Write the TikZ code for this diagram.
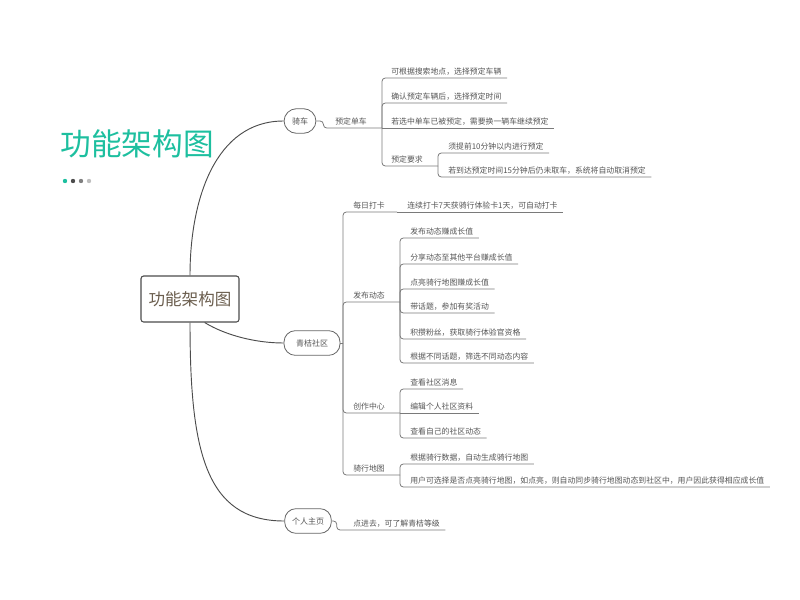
\documentclass[tikz,border=0pt]{standalone}
\usepackage{fontspec}
\setmainfont{Noto Sans CJK SC}
\usepackage{xcolor}
\usetikzlibrary{positioning,calc}

\definecolor{mintteal}{HTML}{1DBF9F}
\definecolor{linegray}{HTML}{7A7A7A}
\definecolor{textgray}{HTML}{555555}
\definecolor{rootbrown}{HTML}{6B5E4E}

\begin{document}
\begin{tikzpicture}[
    x=0.75pt, y=-0.75pt,
    heading/.style={font=\fontsize{23}{26}\selectfont, text=mintteal, inner sep=0pt},
    root/.style={rectangle, draw=black!70, rounded corners=2pt, line width=0.8pt, minimum width=73.5pt, minimum height=34.5pt, font=\fontsize{12.4}{14}\selectfont, text=rootbrown, fill=white},
    topic/.style={rectangle, draw=black!60, rounded corners=8.5pt, line width=0.6pt, minimum height=18.5pt, inner xsep=3pt, font=\fontsize{6}{7}\selectfont, text=textgray, fill=white},
    leaf/.style={anchor=south west, inner xsep=0pt, inner ysep=2pt, font=\fontsize{5.9}{7}\selectfont, text=textgray},
    trunk/.style={draw=black!70, line width=0.7pt},
    branch/.style={draw=linegray, line width=0.6pt, rounded corners=2.5pt},
    dot/.style={circle, inner sep=0pt, minimum size=3.3pt},
]
\useasboundingbox (0,0) rectangle (800,600);

% title
\node[heading] (title) at (137,144) {功能架构图};
\node[dot, fill=mintteal] (d1) at (65,181) {};
\node[dot, fill=black!70] (d2) at (73,181) {};
\node[dot, fill=black!50] (d3) at (81,181) {};
\node[dot, fill=black!25] (d4) at (89,181) {};

% centre and main topics
\node[root] (root) at (190,299) {功能架构图};
\node[topic, minimum width=24pt, rounded corners=9.5pt] (ride) at (300,121) {骑车};
\node[topic, minimum width=42pt] (community) at (312,343) {青桔社区};
\node[topic, minimum width=35pt] (home) at (308,521) {个人主页};

\draw[trunk] (root.north) .. controls (190,200) and (215,121) .. (ride.west);
\draw[trunk] ([xshift=11pt]root.south) .. controls (225,335) and (255,343) .. (community.west);
\draw[trunk] (root.south) .. controls (190,450) and (205,521) .. (home.west);

% 骑车
\coordinate (bookfork) at (382,128);
\node[leaf] (book) at (335,128) {预定单车};
\node[leaf] (search) at (391,78) {可根据搜索地点，选择预定车辆};
\node[leaf] (picktime) at (391,103) {确认预定车辆后，选择预定时间};
\node[leaf] (rebook) at (391,128) {若选中单车已被预定，需要换一辆车继续预定};
\node[leaf] (rule) at (391,166) {预定要求};
\coordinate (rulefork) at (438,166);
\node[leaf] (early) at (448,153) {须提前10分钟以内进行预定};
\node[leaf] (cancel) at (448,177) {若到达预定时间15分钟后仍未取车，系统将自动取消预定};

\draw[branch] (ride.east) -- ++(7,0) |- (bookfork);
\draw[branch] (bookfork) |- ([xshift=4pt]search.south east);
\draw[branch] (bookfork) |- ([xshift=4pt]picktime.south east);
\draw[branch] (bookfork) -- ([xshift=4pt]rebook.south east);
\draw[branch] (bookfork) |- (rulefork);
\draw[branch] (rulefork) |- ([xshift=4pt]early.south east);
\draw[branch] (rulefork) |- ([xshift=4pt]cancel.south east);

% 青桔社区
\coordinate (commfork) at (343,343);
\node[leaf] (checkin) at (353,212) {每日打卡};
\coordinate (checkinfork) at (397,212);
\node[leaf] (streak) at (407,212) {连续打卡7天获骑行体验卡1天，可自动打卡};

\node[leaf] (post) at (353,302) {发布动态};
\coordinate (postfork) at (400,302);
\node[leaf] (post1) at (410,238) {发布动态赚成长值};
\node[leaf] (post2) at (410,264) {分享动态至其他平台赚成长值};
\node[leaf] (post3) at (410,289) {点亮骑行地图赚成长值};
\node[leaf] (post4) at (410,313) {带话题，参加有奖活动};
\node[leaf] (post5) at (410,339) {积攒粉丝，获取骑行体验官资格};
\node[leaf] (post6) at (410,363) {根据不同话题，筛选不同动态内容};

\node[leaf] (studio) at (353,413) {创作中心};
\coordinate (studiofork) at (400,413);
\node[leaf] (studio1) at (410,389) {查看社区消息};
\node[leaf] (studio2) at (410,413) {编辑个人社区资料};
\node[leaf] (studio3) at (410,438) {查看自己的社区动态};

\node[leaf] (ridemap) at (353,475) {骑行地图};
\coordinate (mapfork) at (400,475);
\node[leaf] (map1) at (410,464) {根据骑行数据，自动生成骑行地图};
\node[leaf] (map2) at (410,487) {用户可选择是否点亮骑行地图，如点亮，则自动同步骑行地图动态到社区中，用户因此获得相应成长值};

\draw[branch] (community.east) -- (commfork);
\draw[branch] (commfork) |- (checkinfork);
\draw[branch] (checkinfork) -- ([xshift=4pt]streak.south east);
\draw[branch] (commfork) |- (postfork);
\draw[branch] (commfork) |- (studiofork);
\draw[branch] (commfork) |- (mapfork);

\draw[branch] (postfork) |- ([xshift=4pt]post1.south east);
\draw[branch] (postfork) |- ([xshift=4pt]post2.south east);
\draw[branch] (postfork) |- ([xshift=4pt]post3.south east);
\draw[branch] (postfork) |- ([xshift=4pt]post4.south east);
\draw[branch] (postfork) |- ([xshift=4pt]post5.south east);
\draw[branch] (postfork) |- ([xshift=4pt]post6.south east);

\draw[branch] (studiofork) |- ([xshift=4pt]studio1.south east);
\draw[branch] (studiofork) -- ([xshift=4pt]studio2.south east);
\draw[branch] (studiofork) |- ([xshift=4pt]studio3.south east);

\draw[branch] (mapfork) |- ([xshift=4pt]map1.south east);
\draw[branch] (mapfork) |- ([xshift=4pt]map2.south east);

% 个人主页
\node[leaf] (level) at (353,530) {点进去，可了解青桔等级};
\draw[branch] (home.east) -- ++(5,0) |- ([xshift=4pt]level.south east);

\end{tikzpicture}
\end{document}
